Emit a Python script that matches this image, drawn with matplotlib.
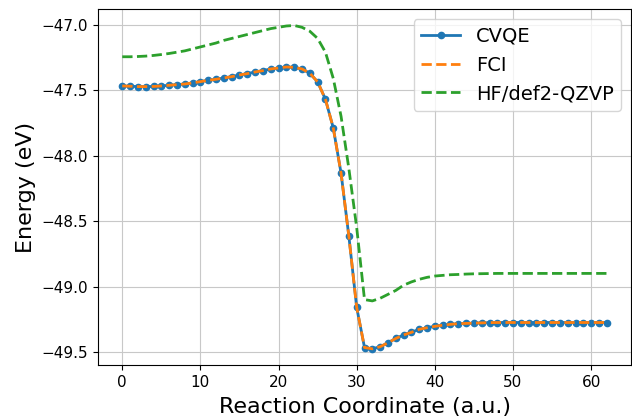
import numpy as np
import matplotlib
matplotlib.use("Agg")
import matplotlib.pyplot as plt

# reaction coordinate, one point per step
coord = np.arange(63)

# energies (eV)
cvqe = [-47.468, -47.470, -47.473, -47.473, -47.472, -47.468, -47.463, -47.458,
        -47.453, -47.445, -47.435, -47.425, -47.417, -47.407, -47.397, -47.384,
        -47.374, -47.361, -47.351, -47.338, -47.331, -47.323, -47.326, -47.338,
        -47.371, -47.437, -47.570, -47.788, -48.134, -48.617, -49.160, -49.466,
        -49.476, -49.460, -49.430, -49.397, -49.370, -49.350, -49.327, -49.315,
        -49.304, -49.296, -49.289, -49.284, -49.282, -49.280, -49.278, -49.276,
        -49.275, -49.275, -49.275, -49.275, -49.275, -49.275, -49.275, -49.275,
        -49.275, -49.275, -49.275, -49.275, -49.275, -49.275, -49.275]
fci = list(cvqe)
hf = [-47.245, -47.245, -47.243, -47.240, -47.235, -47.228, -47.220, -47.210,
      -47.200, -47.185, -47.170, -47.155, -47.140, -47.120, -47.105, -47.090,
      -47.075, -47.060, -47.045, -47.030, -47.020, -47.010, -47.006, -47.020,
      -47.050, -47.105, -47.210, -47.410, -47.700, -48.100, -48.550, -49.100,
      -49.110, -49.090, -49.060, -49.030, -48.990, -48.965, -48.945, -48.930,
      -48.920, -48.915, -48.910, -48.908, -48.905, -48.903, -48.902, -48.901,
      -48.900, -48.900, -48.900, -48.900, -48.900, -48.900, -48.900, -48.900,
      -48.900, -48.900, -48.900, -48.900, -48.900, -48.900, -48.900]

fig = plt.figure(figsize=(6.32, 4.19), dpi=100)
ax = fig.add_axes([0.1551, 0.1289, 0.8433, 0.8489])

ax.plot(coord, cvqe, 'o-', lw=2, ms=4.5, label='CVQE')
ax.plot(coord, fci, '--', lw=2, label='FCI')
ax.plot(coord, hf, '--', lw=2, label='HF/def2-QZVP')

ax.set_xlabel('Reaction Coordinate (a.u.)', fontsize=16, labelpad=5)
ax.set_ylabel('Energy (eV)', fontsize=16)
ax.tick_params(labelsize=11)
ax.grid(True, color='#c8c8c8')
ax.legend(loc='upper right', fontsize=14)

fig.savefig('out.png', dpi=100)
